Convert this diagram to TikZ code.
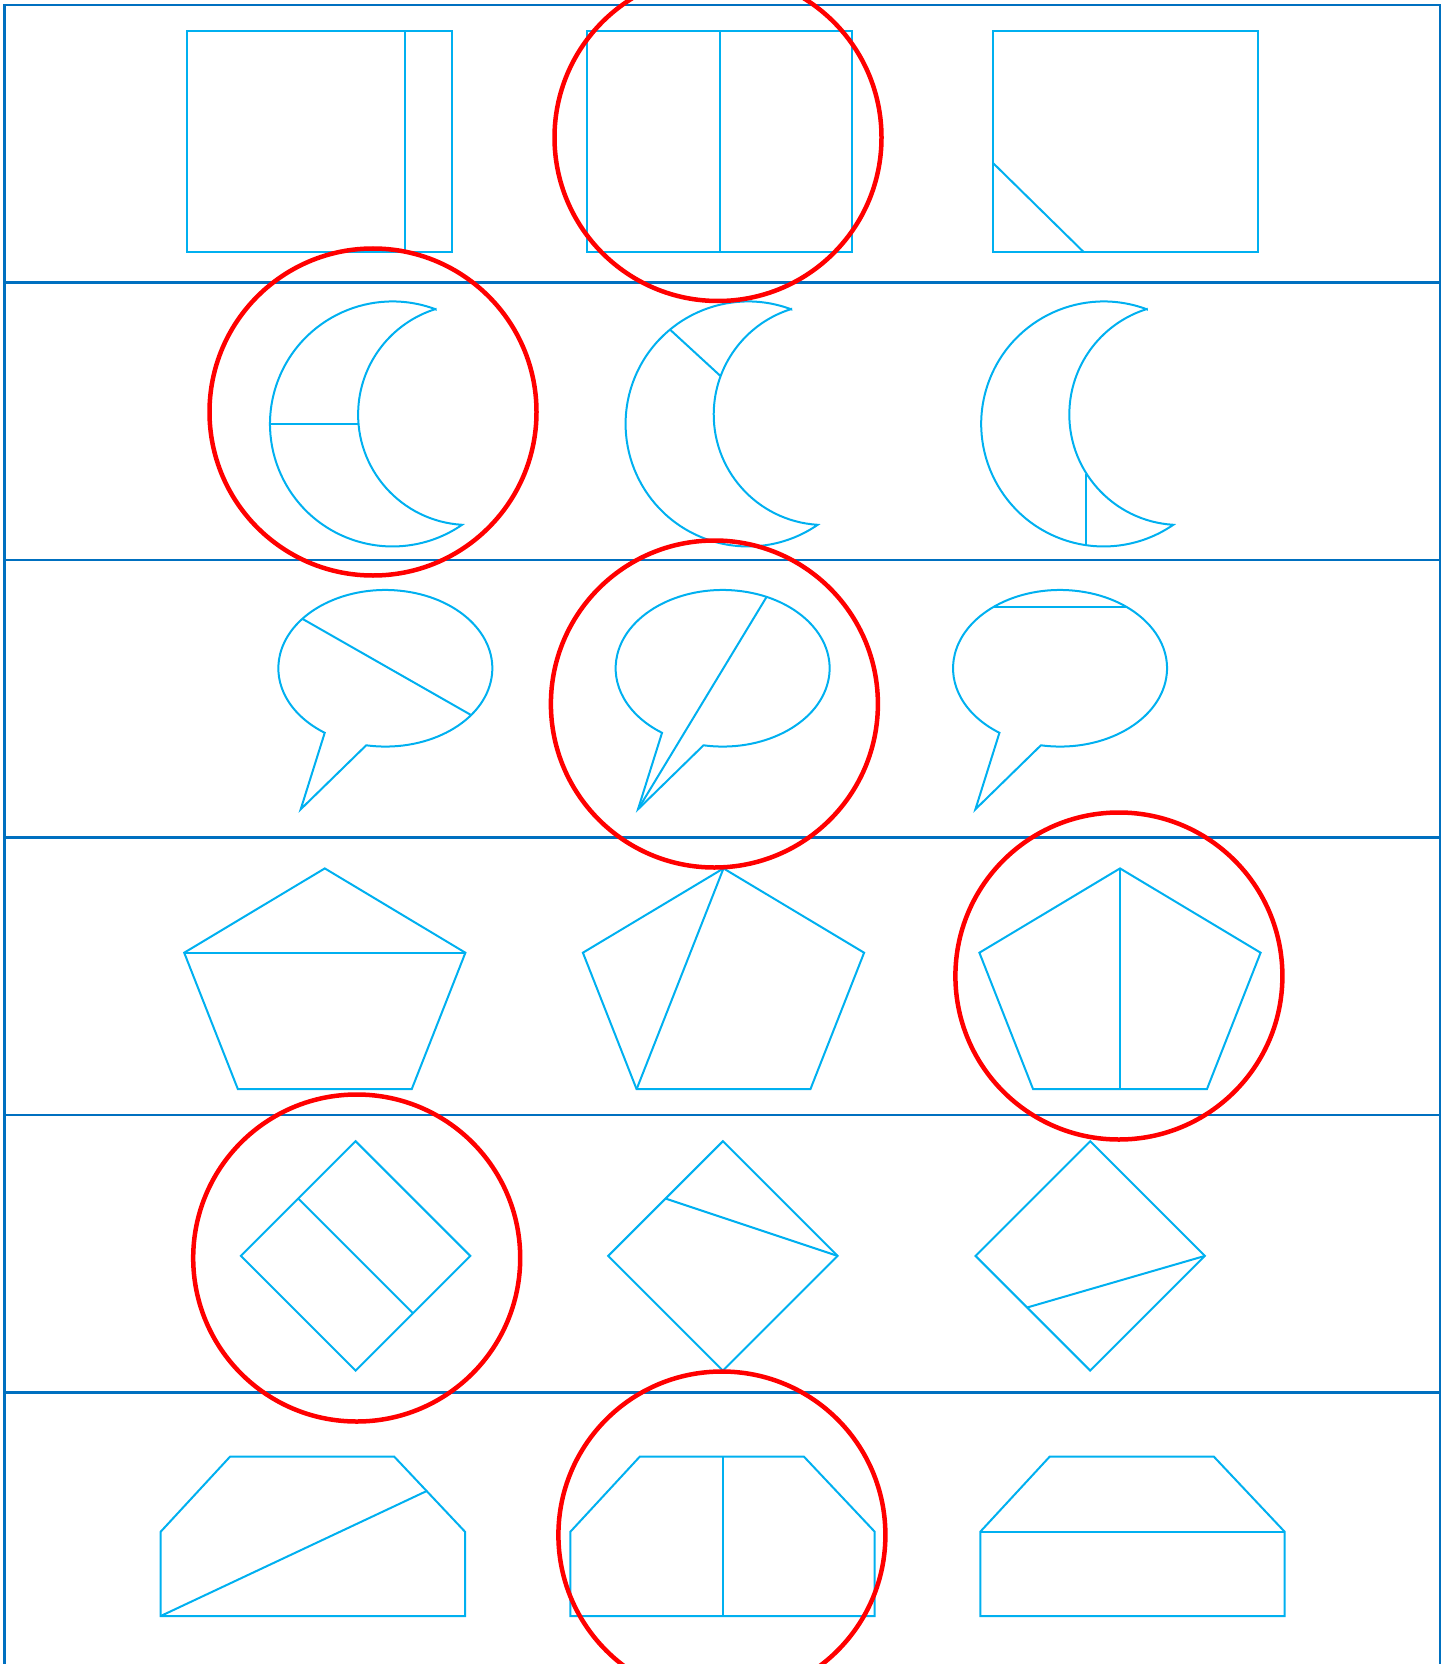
\documentclass[tikz,border=0pt]{standalone}
\definecolor{frameblue}{HTML}{0070C0}
\definecolor{shapecyan}{HTML}{00B0F0}
\begin{document}
\begin{tikzpicture}[x=0.5pt,y=-0.5pt,
  frameline/.style={draw=frameblue,line width=1.1pt},
  shapeline/.style={draw=shapecyan,line width=1pt,line join=miter},
  ring/.style={draw=red,line width=2.25pt}]
\useasboundingbox (0,0) rectangle (1448,1664);
\clip (0,0) rectangle (1448,1664);
% frame and row separators
\draw[frameline] (4.5,5) rectangle (1440,1670);
\foreach \yy in {282.5,560,837.5,1115,1392.5}
  \draw[frameline] (4.5,\yy) -- (1440,\yy);
% row 1: rectangles
\draw[shapeline] (186.7,30.7) rectangle (452,251.7);
\draw[shapeline] (405,30.7) -- (405,251.7);
\draw[shapeline] (586.7,30.7) rectangle (852.3,251.7);
\draw[shapeline] (720,30.7) -- (720,251.7);
\draw[shapeline] (992.7,30.7) rectangle (1258.3,251.7);
\draw[shapeline] (992.7,162.7) -- (1083.3,251.7);
% row 2: moons
\foreach \dx in {0,355.6,711.2}{
  \begin{scope}[shift={(\dx,0)}]
    \draw[shapeline] (435.6,309.3) arc[start angle=-69.4, end angle=-304.6, radius=122.5]
      arc[start angle=93.4, end angle=252.6, radius=110.5] -- cycle;
  \end{scope}}
\draw[shapeline] (270,424) -- (358.1,424);
\begin{scope}[shift={(355.6,0)}]
  \draw[shapeline] (314.4,329.6) -- (365.2,376.3);
\end{scope}
\begin{scope}[shift={(711.2,0)}]
  \draw[shapeline] (374.8,474.2) -- (374.8,544.7);
\end{scope}
% row 3: speech bubbles
\foreach \dx in {0,337.3,674.7}{
  \begin{scope}[shift={(\dx,0)}]
    \draw[shapeline] (366.2,745.3) arc[start angle=100.3, end angle=-235.5, x radius=107, y radius=78.3]
      -- (300.7,809.3) -- cycle;
  \end{scope}}
\draw[shapeline] (302.7,619) -- (471,715);
\begin{scope}[shift={(337.3,0)}]
  \draw[shapeline] (300.7,809.3) -- (429.4,596.7);
\end{scope}
\begin{scope}[shift={(674.7,0)}]
  \draw[shapeline] (318.7,607) -- (451.9,607);
\end{scope}
% row 4: pentagons
\foreach \cx in {324.8,723.5,1120}{
  \begin{scope}[shift={(\cx,0)}]
    \draw[shapeline] (0,868.4) -- (140.6,952.7) -- (86.9,1089.2) -- (-86.9,1089.2) -- (-140.6,952.7) -- cycle;
  \end{scope}}
\begin{scope}[shift={(324.8,0)}]
  \draw[shapeline] (-140.6,952.7) -- (140.6,952.7);
\end{scope}
\begin{scope}[shift={(723.5,0)}]
  \draw[shapeline] (0,868.4) -- (-86.9,1089.2);
\end{scope}
\begin{scope}[shift={(1120,0)}]
  \draw[shapeline] (0,868.4) -- (0,1089.2);
\end{scope}
% row 5: diamonds
\foreach \cx in {355.6,722.9,1090.2}{
  \begin{scope}[shift={(\cx,1255.9)}]
    \draw[shapeline] (0,-114.7) -- (114.7,0) -- (0,114.7) -- (-114.7,0) -- cycle;
  \end{scope}}
\begin{scope}[shift={(355.6,1255.9)}]
  \draw[shapeline] (-57.35,-57.35) -- (57.35,57.35);
\end{scope}
\begin{scope}[shift={(722.9,1255.9)}]
  \draw[shapeline] (-57.35,-57.35) -- (114.7,0);
\end{scope}
\begin{scope}[shift={(1090.2,1255.9)}]
  \draw[shapeline] (114.7,0) -- (-63.1,51.6);
\end{scope}
% row 6: bevelled shapes
\foreach \dx in {0,409.7,819.6}{
  \begin{scope}[shift={(\dx,0)}]
    \draw[shapeline] (160.7,1616) -- (160.7,1531.7) -- (230,1456.7) -- (394.3,1456.7)
      -- (465,1531.7) -- (465,1616) -- cycle;
  \end{scope}}
\draw[shapeline] (160.7,1616) -- (426.7,1491);
\begin{scope}[shift={(409.7,0)}]
  \draw[shapeline] (312.8,1456.7) -- (312.8,1616);
\end{scope}
\begin{scope}[shift={(819.6,0)}]
  \draw[shapeline] (160.7,1531.7) -- (465,1531.7);
\end{scope}
% red rings
\draw[ring] (718,137.5) circle[radius=163.5];
\draw[ring] (373,412) circle[radius=163.5];
\draw[ring] (714.4,704) circle[radius=163.5];
\draw[ring] (1118.9,976) circle[radius=163.5];
\draw[ring] (356.7,1258) circle[radius=163.5];
\draw[ring] (721.9,1535) circle[radius=163.5];
\end{tikzpicture}
\end{document}
